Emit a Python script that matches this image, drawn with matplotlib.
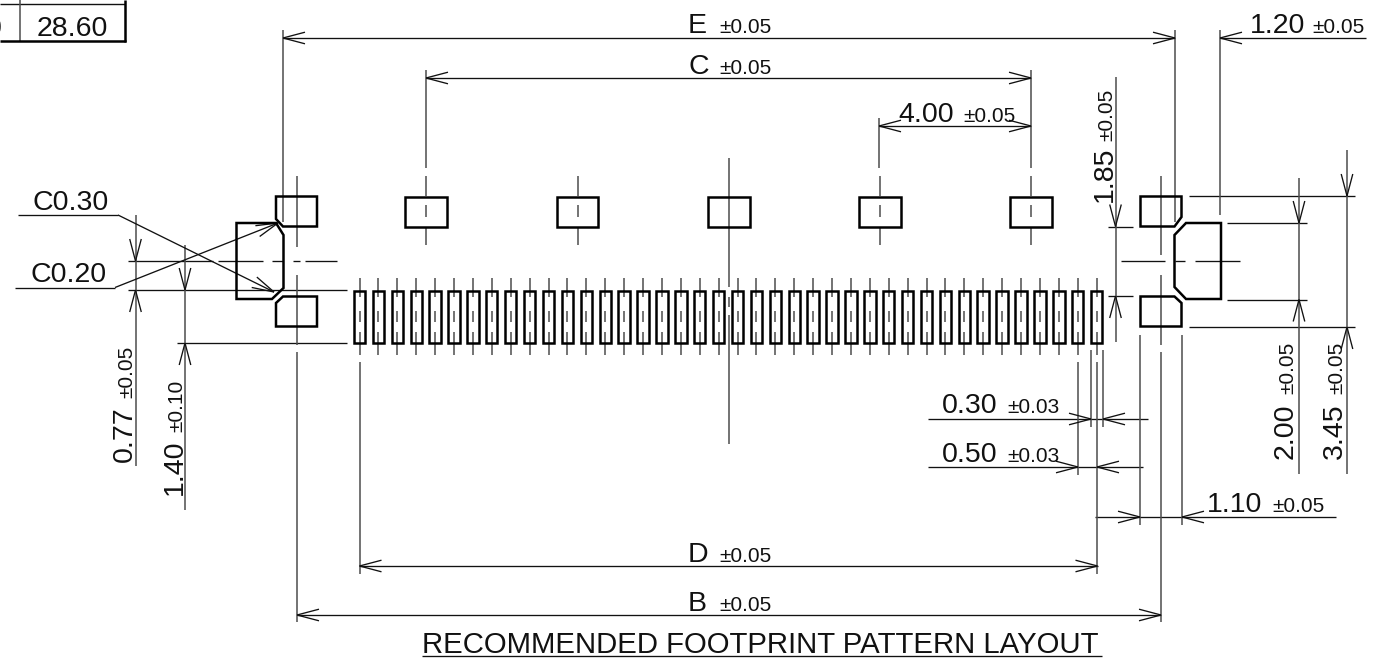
import numpy as np
import matplotlib
matplotlib.use("Agg")
import matplotlib.pyplot as plt
from matplotlib.patches import Polygon

plt.rcParams['font.family'] = ['Liberation Sans', 'DejaVu Sans']

# ---- drawing geometry (pixel coordinates) ----
fine_pad_count = 40
fine_pad_first_x = 359.5
fine_pad_pitch = 18.9
fine_pad_width = 11.4
fine_pad_y = (290.5, 343)
fine_pad_marks = [(278, 297), (311, 322), (332, 355)]
top_pad_centres = [426, 577.5, 729, 880, 1031]
top_pad_y = (196.5, 226.5)
top_pad_half = 20.7

outlines = [
    [(236.5, 223), (276, 223), (283.5, 235), (283.5, 288), (272, 299), (236.5, 299)],
    [(276, 196.5), (317, 196.5), (317, 226.5), (283, 226.5), (276, 219)],
    [(283, 296.5), (317, 296.5), (317, 326.5), (276, 326.5), (276, 303)],
    [(1140.5, 196.5), (1181.5, 196.5), (1181.5, 217), (1174.5, 226.5), (1140.5, 226.5)],
    [(1140.5, 296.5), (1174.5, 296.5), (1181.5, 303), (1181.5, 326.5), (1140.5, 326.5)],
    [(1186, 223), (1221, 223), (1221, 299), (1186, 299), (1174.5, 287), (1174.5, 235)],
]

horizontal_lines = [  # y, x0, x1
    (38, 283, 1175), (38, 1220, 1366), (78, 426, 1031), (126, 879, 1031),
    (566, 359.5, 1097.5), (615, 297, 1161),
    (419, 928, 1148), (467, 928, 1143), (517, 1095, 1336),
    (226.5, 1108, 1133), (296, 1108, 1133),
    (223, 1227, 1307), (299.5, 1227, 1307), (196, 1189, 1355), (327, 1189, 1355),
    (261, 128, 213), (290, 128, 347), (343, 177, 347),
    (215, 18, 118), (287.5, 15, 115),
    (656, 422, 1102),
]
vertical_lines = [  # x, y0, y1
    (283, 30, 222), (1175, 30, 222), (1220, 30, 215), (426, 70, 168), (1031, 70, 168), (879, 118, 168),
    (1115.5, 77, 342),
    (1299, 178, 474), (1347, 150, 474),
    (135.5, 215, 466), (185, 245, 510),
    (1078, 362, 475), (1091, 350, 427), (1103, 350, 427), (1097, 362, 574),
    (1140, 335, 525), (1182, 335, 525), (359.5, 362, 574),
    (297, 352, 622), (1161, 352, 622),
]
centre_v = [  # x, y0, y1
    (297, 176, 247), (297, 275, 345), (1161, 176, 255), (1161, 275, 345),
    (728.5, 158, 287), (728.5, 297, 307), (728.5, 315, 444),
]
centre_h = [  # y, x0, x1
    (261, 218, 263), (261, 272, 283), (261, 293, 300), (261, 305, 337),
    (261, 1121, 1165), (261, 1175, 1185), (261, 1195, 1240),
]
arrows = [  # tip x, tip y, pointing direction
    (283, 38, 'l'), (1175, 38, 'r'), (1220, 38, 'l'), (426, 78, 'l'), (1031, 78, 'r'),
    (879, 126, 'l'), (1031, 126, 'r'), (359.5, 566, 'l'), (1097.5, 566, 'r'),
    (297, 615, 'l'), (1161, 615, 'r'),
    (1091, 419, 'r'), (1103, 419, 'l'), (1078, 467, 'r'), (1097, 467, 'l'),
    (1140, 517, 'r'), (1182, 517, 'l'),
    (1115.5, 226.5, 'd'), (1115.5, 296, 'u'), (1299, 223, 'd'), (1299, 299.5, 'u'),
    (1347, 196, 'd'), (1347, 327, 'u'),
    (135.5, 261, 'd'), (135.5, 290, 'u'), (185, 290, 'd'), (185, 343, 'u'),
]
leaders = [  # from x, from y, tip x, tip y
    (118, 215, 274, 292), (115, 287.5, 278, 223),
]
h_labels = [  # main, tolerance, main x, tolerance x, baseline y
    ("E", "±0.05", 688, 719, 33), ("C", "±0.05", 688, 719, 74), ("D", "±0.05", 688, 719, 562),
    ("B", "±0.05", 688, 719, 611), ("4.00", "±0.05", 898, 963, 122), ("1.20", "±0.05", 1250, 1312, 33),
    ("0.30", "±0.03", 942, 1007, 413), ("0.50", "±0.03", 942, 1007, 462), ("1.10", "±0.05", 1207, 1272, 512),
]
v_labels = [  # main, tolerance, baseline x, main y, tolerance y
    ("0.77", "±0.05", 132, 462, 398), ("1.40", "±0.10", 182, 495, 432), ("1.85", "±0.05", 1112, 202, 141),
    ("2.00", "±0.05", 1293, 459, 394), ("3.45", "±0.05", 1342, 459, 394),
]
plain_labels = [("C0.30", 33, 210), ("C0.20", 30, 282), ("28.60", 37, 36)]
title_text = "RECOMMENDED FOOTPRINT PATTERN LAYOUT"
table_cell_left = "0"

INK = "#111111"
GREY = "#4d4d4d"
THIN = 0.95
MID = 1.1
THICK = 1.8
MAIN = 20.5
TOL = 15

fig = plt.figure(figsize=(13.74, 6.62), dpi=100)
ax = fig.add_axes([0, 0, 1, 1])
ax.set_xlim(0, 1374)
ax.set_ylim(662, 0)
ax.axis("off")


def seg(x0, y0, x1, y1, color=INK, lw=THIN):
    ax.plot([x0, x1], [y0, y1], color=color, lw=lw, solid_capstyle="butt", zorder=2)


def head(tx, ty, dx, dy, length=22, half=5.8):
    n = np.hypot(dx, dy)
    ux, uy = dx / n, dy / n
    bx, by = tx - ux * length, ty - uy * length
    seg(tx, ty, bx - uy * half, by + ux * half)
    seg(tx, ty, bx + uy * half, by - ux * half)


for y, x0, x1 in horizontal_lines:
    seg(x0, y, x1, y)
for x, y0, y1 in vertical_lines:
    seg(x, y0, x, y1, color=GREY, lw=MID)
for x, y0, y1 in centre_v:
    seg(x, y0, x, y1, color=GREY, lw=MID)
for y, x0, x1 in centre_h:
    seg(x0, y, x1, y)

directions = {'l': (-1, 0), 'r': (1, 0), 'u': (0, -1), 'd': (0, 1)}
for tx, ty, d in arrows:
    head(tx, ty, *directions[d])
for x0, y0, x1, y1 in leaders:
    seg(x0, y0, x1, y1)
    head(x1, y1, x1 - x0, y1 - y0)

# outlines of the large pads
for pts in outlines:
    ax.add_patch(Polygon(pts, closed=True, fill=False, ec="black", lw=THICK, joinstyle="miter", zorder=3))

# top row of signal pads with their centre lines
for c in top_pad_centres:
    ax.add_patch(Polygon([(c - top_pad_half, top_pad_y[0]), (c + top_pad_half, top_pad_y[0]),
                          (c + top_pad_half, top_pad_y[1]), (c - top_pad_half, top_pad_y[1])],
                         closed=True, fill=False, ec="black", lw=THICK, zorder=3))
    if c != 729:
        seg(c, 176, c, 196, color=GREY, lw=MID)
        seg(c, 205, c, 217, color=GREY, lw=MID)
        seg(c, 227, c, 245, color=GREY, lw=MID)

# fine pitch contact row
for i in range(fine_pad_count):
    c = fine_pad_first_x + i * fine_pad_pitch
    ax.add_patch(Polygon([(c - fine_pad_width / 2, fine_pad_y[0]), (c + fine_pad_width / 2, fine_pad_y[0]),
                          (c + fine_pad_width / 2, fine_pad_y[1]), (c - fine_pad_width / 2, fine_pad_y[1])],
                         closed=True, fill=False, ec="black", lw=THICK, zorder=3))
    for y0, y1 in fine_pad_marks:
        seg(c, y0, c, y1, color=GREY, lw=MID)

# table fragment, top left
seg(0, 3.5, 125, 3.5, lw=1.0)
seg(19.5, 0, 19.5, 41, color=GREY, lw=MID)
seg(0, 41, 126, 41, color="black", lw=THICK)
seg(125, 0, 125, 41.5, color="black", lw=THICK)
ax.text(2, 36, table_cell_left, fontsize=MAIN, ha="right", va="baseline", color=INK)

for m, t, xm, xt, y in h_labels:
    ax.text(xm, y, m, fontsize=MAIN, ha="left", va="baseline", color=INK)
    ax.text(xt, y, t, fontsize=TOL, ha="left", va="baseline", color=INK)
for m, t, x, ym, yt in v_labels:
    ax.text(x, ym, m, fontsize=MAIN, rotation=90, rotation_mode="anchor", ha="left", va="baseline", color=INK)
    ax.text(x, yt, t, fontsize=TOL, rotation=90, rotation_mode="anchor", ha="left", va="baseline", color=INK)
for s, x, y in plain_labels:
    ax.text(x, y, s, fontsize=MAIN, ha="left", va="baseline", color=INK)
ax.text(422, 653, title_text, fontsize=21.2, ha="left", va="baseline", color=INK)

fig.savefig("out.png", dpi=100)
